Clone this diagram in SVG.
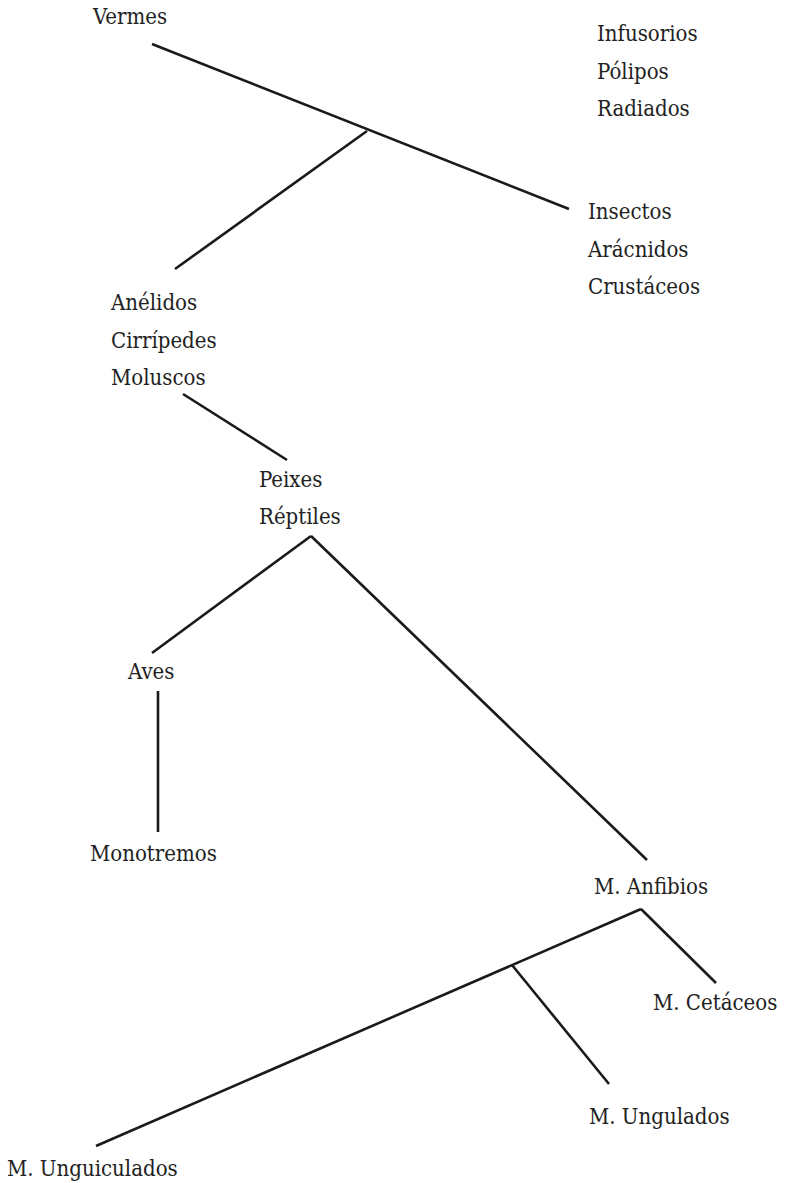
<svg xmlns="http://www.w3.org/2000/svg" width="785" height="1183" viewBox="0 0 785 1183">
<style>
.t text{font-family:'DejaVu Serif Condensed','DejaVu Serif',serif;font-stretch:condensed;font-size:22px;fill:#222}
.c line{stroke:#1a1a1a;stroke-width:2.6;stroke-linecap:butt}
</style>
<rect width="785" height="1183" fill="#fff"/>
<g id="connectors" class="c">
<line x1="152" y1="44" x2="569" y2="209"/>
<line x1="367" y1="131" x2="175" y2="269"/>
<line x1="183" y1="394" x2="287" y2="460"/>
<line x1="311" y1="536" x2="152" y2="653"/>
<line x1="311" y1="536" x2="647" y2="860"/>
<line x1="158" y1="691" x2="158" y2="832"/>
<line x1="641" y1="909" x2="716" y2="983"/>
<line x1="641" y1="909" x2="96" y2="1146"/>
<line x1="512" y1="965" x2="609" y2="1084"/>
</g>
<g class="t">
<g id="vermes"><text x="93" y="24">Vermes</text></g>
<g id="infusorios"><text x="597" y="41">Infusorios</text><text x="597" y="79">Pólipos</text><text x="597" y="116">Radiados</text></g>
<g id="insectos"><text x="588" y="219">Insectos</text><text x="588" y="257">Arácnidos</text><text x="588" y="294">Crustáceos</text></g>
<g id="anelidos"><text x="111" y="310">Anélidos</text><text x="111" y="348">Cirrípedes</text><text x="111" y="385">Moluscos</text></g>
<g id="peixes"><text x="259" y="487">Peixes</text><text x="259" y="524">Réptiles</text></g>
<g id="aves"><text x="128" y="679">Aves</text></g>
<g id="monotremos"><text x="90" y="861">Monotremos</text></g>
<g id="anfibios"><text x="594" y="894">M. Anfibios</text></g>
<g id="cetaceos"><text x="653" y="1010">M. Cetáceos</text></g>
<g id="ungulados"><text x="589" y="1124">M. Ungulados</text></g>
<g id="unguiculados"><text x="7" y="1176">M. Unguiculados</text></g>
</g>
</svg>
